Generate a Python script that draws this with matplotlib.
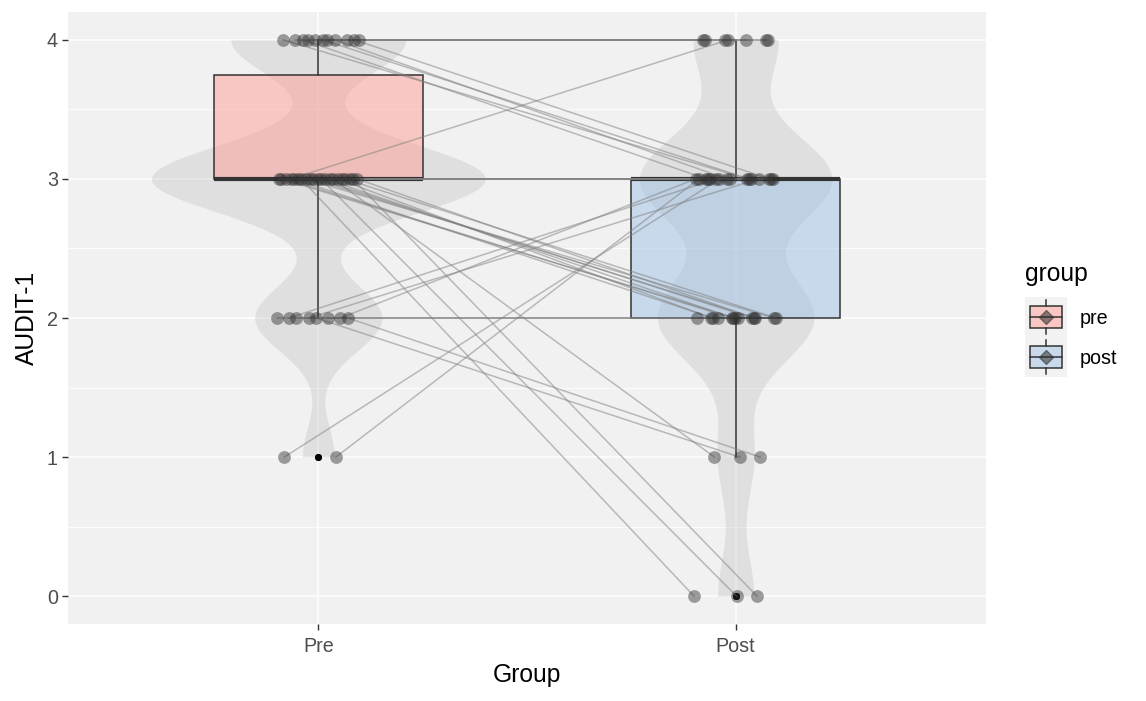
import numpy as np
import matplotlib
matplotlib.use('Agg')
import matplotlib.pyplot as plt
from matplotlib.patches import Rectangle

# paired AUDIT-1 scores per subject (pre, post)
groups = ['Pre', 'Post']
legend_labels = ['pre', 'post']
pre_scores = [4, 4, 4, 4, 4, 4, 4, 4, 4, 4, 4,
              3, 3, 3, 3, 3, 3, 3, 3, 3, 3, 3, 3, 3, 3, 3, 3, 3, 3, 3, 3, 3,
              2, 2, 2, 2, 2, 2, 2, 2,
              1, 1]
post_scores = [4, 4, 4, 4, 4, 4, 3, 3, 3, 3, 3,
               4, 3, 3, 3, 3, 3, 3, 2, 2, 2, 2, 2, 2, 2, 2, 2, 2, 1, 0, 0, 0,
               3, 3, 3, 2, 2, 2, 1, 1,
               3, 3]
y_ticks = [0, 1, 2, 3, 4]

box_colors = [(1.0, 0.62, 0.59), (0.62, 0.76, 0.90)]
W, H = 1146, 701


def nrd0(x):
    x = np.asarray(x, float)
    iqr = np.subtract(*np.percentile(x, [75, 25]))
    lo = min(x.std(ddof=1), iqr / 1.34)
    return 0.9 * lo * len(x) ** -0.2


def kde(x, grid, bw):
    x = np.asarray(x, float)
    z = (grid[:, None] - x[None, :]) / bw
    return np.exp(-0.5 * z ** 2).sum(axis=1) / (len(x) * bw * np.sqrt(2 * np.pi))


plt.rcParams['font.family'] = ['Liberation Sans', 'DejaVu Sans']
fig = plt.figure(figsize=(W / 100, H / 100), dpi=100)
ax = fig.add_axes([68 / W, 1 - 624 / H, (986 - 68) / W, (624 - 12) / H])
ax.set_facecolor('#F1F1F1')
for s in ax.spines.values():
    s.set_visible(False)
ax.set_xlim(0.4, 2.6)
ax.set_ylim(-0.2, 4.2)

# grid
for y in np.arange(-0.5, 4.51, 0.5):
    major = float(y).is_integer()
    ax.axhline(y, color='white', lw=1.1 if major else 0.6, zorder=0)
for x in [1, 2]:
    ax.axvline(x, color='white', lw=1.1, zorder=0)

# violins
data = [pre_scores, post_scores]
dens = []
for d in data:
    grid = np.linspace(min(d), max(d), 512)
    dens.append((grid, kde(d, grid, nrd0(d))))
dmax = max(k.max() for _, k in dens)
for i, (grid, k) in enumerate(dens):
    hw = 0.4 * k / dmax
    ax.fill_betweenx(grid, i + 1 - hw, i + 1 + hw, color='#BDBDBD', alpha=0.33,
                     lw=0, zorder=1)

# boxplots
bp = ax.boxplot(data, positions=[1, 2], widths=0.5, patch_artist=True,
                showcaps=False, whis=1.5, manage_ticks=False,
                medianprops=dict(color='#333333', lw=3),
                boxprops=dict(edgecolor='#333333', lw=1.1),
                whiskerprops=dict(color='#333333', lw=1.1),
                flierprops=dict(marker='o', markerfacecolor='black',
                                markeredgecolor='black', markersize=4))
for patch, c in zip(bp['boxes'], box_colors):
    patch.set_facecolor((*c, 0.5))
    patch.set_zorder(2)
for key in ['whiskers', 'medians', 'fliers']:
    for art in bp[key]:
        art.set_zorder(2.5)

# jittered paired points + connecting lines
n = len(pre_scores)
idx = np.arange(n)
x_pre = 1 + ((idx * 0.618034 + 0.37) % 1 - 0.5) * 0.2
x_post = 2 + ((idx * 0.754878 + 0.11) % 1 - 0.5) * 0.2
for i in range(n):
    ax.plot([x_pre[i], x_post[i]], [pre_scores[i], post_scores[i]],
            color='#7F7F7F', alpha=0.5, lw=1.1, zorder=3)
ax.scatter(x_pre, pre_scores, s=85, color='#2E2E2E', alpha=0.45, lw=0, zorder=4)
ax.scatter(x_post, post_scores, s=85, color='#2E2E2E', alpha=0.45, lw=0, zorder=4)

ax.set_xticks([1, 2])
ax.set_xticklabels(groups)
ax.set_yticks(y_ticks)
ax.tick_params(length=4.3, width=1, color='#333333', labelsize=14.2,
               labelcolor='#4D4D4D', pad=3)
ax.tick_params(axis='x', pad=5)

fig.text(27 / W, 1 - 318 / H, 'AUDIT-1', rotation=90, ha='center', va='center',
         fontsize=17.7)
fig.text(527 / W, 1 - 675 / H, 'Group', ha='center', va='center', fontsize=17.7)

# legend
fig.text(1025 / W, 1 - 274 / H, 'group', ha='left', va='center', fontsize=17.7)
lax = fig.add_axes([1025 / W, 1 - 377 / H, 42 / W, 80 / H])
lax.set_xlim(0, 1)
lax.set_ylim(0, 2)
lax.set_facecolor('#F2F2F2')
for s in lax.spines.values():
    s.set_visible(False)
lax.set_xticks([])
lax.set_yticks([])
for j, (lab, c) in enumerate(zip(legend_labels, box_colors)):
    cy = 1.5 - j
    lax.add_patch(Rectangle((0.12, cy - 0.28), 0.76, 0.56, facecolor=(*c, 0.5),
                            edgecolor='#333333', lw=1.1))
    lax.plot([0.5, 0.5], [cy - 0.42, cy - 0.28], color='#333333', lw=1.1)
    lax.plot([0.5, 0.5], [cy + 0.28, cy + 0.42], color='#333333', lw=1.1)
    lax.plot([0.12, 0.88], [cy, cy], color='#333333', lw=1.1)
    lax.plot(0.5, cy, marker='D', markersize=7, color='#2E2E2E', alpha=0.55, lw=0)
    fig.text(1080 / W, 1 - (318 + 40 * j) / H, lab, ha='left', va='center',
             fontsize=14.2)

fig.savefig('out.png', dpi=100, facecolor='white')
